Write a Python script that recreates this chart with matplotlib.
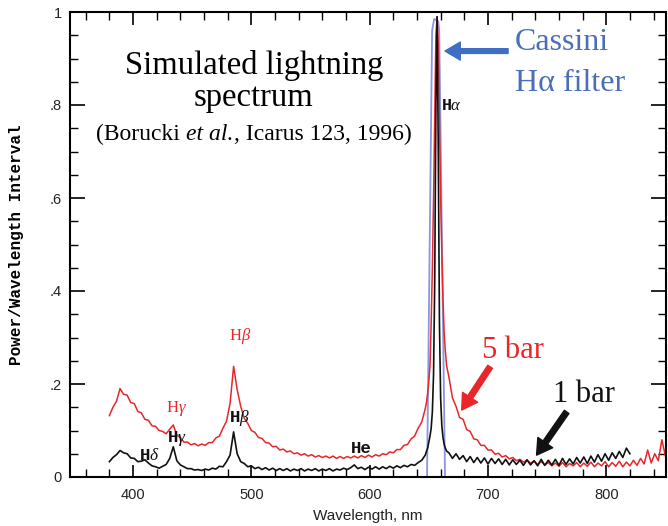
# Simulated lightning spectrum (Borucki et al., 1996) with the Cassini H-alpha filter

import numpy as np
import matplotlib.pyplot as plt
from matplotlib.ticker import MultipleLocator
from matplotlib.transforms import IdentityTransform

plt.rcParams['mathtext.fontset'] = 'custom'
plt.rcParams['mathtext.rm'] = 'Liberation Serif'
plt.rcParams['mathtext.it'] = 'Liberation Serif:italic'

# wavelength grids (nm)
wl_left = np.arange(380, 648, 3)
wl_peak = np.arange(648, 666, 1)
wl_red_right = np.arange(667, 851, 3)
wl_black_right = np.arange(667, 822, 3)

# 5 bar spectrum
red_left = [
    0.132, 0.150, 0.163, 0.190, 0.178, 0.176, 0.160, 0.158, 0.141, 0.138,
    0.124, 0.122, 0.110, 0.109, 0.100, 0.098, 0.093, 0.103, 0.112, 0.090,
    0.085, 0.075, 0.075, 0.069, 0.072, 0.067, 0.071, 0.068, 0.074, 0.074,
    0.084, 0.088, 0.105, 0.120, 0.158, 0.238, 0.188, 0.152, 0.126, 0.115,
    0.100, 0.096, 0.085, 0.083, 0.074, 0.073, 0.065, 0.066, 0.058, 0.060,
    0.054, 0.056, 0.050, 0.052, 0.047, 0.050, 0.045, 0.048, 0.043, 0.046,
    0.042, 0.045, 0.041, 0.045, 0.040, 0.044, 0.040, 0.044, 0.041, 0.045,
    0.041, 0.046, 0.042, 0.047, 0.043, 0.048, 0.045, 0.050, 0.048, 0.054,
    0.052, 0.059, 0.059, 0.068, 0.070, 0.082, 0.088, 0.105, 0.118, 0.147,
]
red_peak = [
    0.160, 0.180, 0.205, 0.240, 0.330, 0.450, 0.600, 0.780, 0.950, 0.990,
    0.930, 0.760, 0.600, 0.480, 0.380, 0.310, 0.270, 0.240,
]
red_right = [
    0.215, 0.170, 0.152, 0.128, 0.124, 0.102, 0.098, 0.082, 0.080, 0.068,
    0.068, 0.058, 0.058, 0.049, 0.051, 0.043, 0.046, 0.039, 0.042, 0.035,
    0.038, 0.032, 0.036, 0.030, 0.034, 0.027, 0.033, 0.026, 0.031, 0.024,
    0.030, 0.023, 0.031, 0.022, 0.029, 0.024, 0.031, 0.022, 0.030, 0.023,
    0.032, 0.022, 0.030, 0.024, 0.033, 0.022, 0.031, 0.023, 0.034, 0.022,
    0.032, 0.024, 0.036, 0.025, 0.040, 0.028, 0.058, 0.030, 0.050, 0.035,
    0.080, 0.045,
]

# 1 bar spectrum
black_left = [
    0.033, 0.042, 0.048, 0.057, 0.052, 0.050, 0.041, 0.040, 0.033, 0.034,
    0.037, 0.030, 0.024, 0.022, 0.019, 0.023, 0.027, 0.040, 0.065, 0.035,
    0.026, 0.022, 0.018, 0.018, 0.015, 0.016, 0.014, 0.017, 0.015, 0.019,
    0.017, 0.023, 0.022, 0.033, 0.047, 0.097, 0.050, 0.033, 0.029, 0.022,
    0.024, 0.018, 0.021, 0.016, 0.020, 0.015, 0.019, 0.014, 0.018, 0.014,
    0.018, 0.013, 0.017, 0.014, 0.018, 0.013, 0.017, 0.014, 0.018, 0.013,
    0.017, 0.014, 0.018, 0.013, 0.017, 0.015, 0.019, 0.016, 0.020, 0.026,
    0.018, 0.021, 0.016, 0.021, 0.017, 0.022, 0.017, 0.022, 0.018, 0.023,
    0.019, 0.024, 0.020, 0.025, 0.022, 0.027, 0.025, 0.031, 0.036, 0.047,
]
black_peak = [
    0.055, 0.062, 0.075, 0.088, 0.105, 0.140, 0.220, 0.420, 0.800, 0.990,
    0.700, 0.330, 0.170, 0.110, 0.085, 0.070, 0.062, 0.056,
]
black_right = [
    0.052, 0.040, 0.050, 0.038, 0.046, 0.033, 0.044, 0.031, 0.042, 0.030,
    0.041, 0.028, 0.040, 0.029, 0.039, 0.027, 0.038, 0.026, 0.037, 0.027,
    0.036, 0.025, 0.037, 0.026, 0.035, 0.024, 0.038, 0.025, 0.036, 0.026,
    0.038, 0.025, 0.040, 0.027, 0.039, 0.028, 0.042, 0.030, 0.043, 0.029,
    0.045, 0.032, 0.048, 0.034, 0.050, 0.036, 0.052, 0.040, 0.055, 0.042,
    0.062, 0.050,
]

# Cassini H-alpha filter transmission
filter_wl = [648.5, 652.8, 654.5, 658.0, 658.8, 663.7]
filter_val = [0.0, 0.96, 0.985, 0.98, 0.96, 0.0]

x_ticks = [400, 500, 600, 700, 800]
y_ticks = [0, 0.2, 0.4, 0.6, 0.8, 1.0]
y_tick_labels = ['0', '.2', '.4', '.6', '.8', '1']

# citation line, roman / italic / roman
cite_parts = ['(Borucki', 'et al.', ', Icarus 123, 1996)']
cite_styles = ['normal', 'italic', 'normal']

wl_red = np.concatenate([wl_left, wl_peak, wl_red_right])
red = np.concatenate([red_left, red_peak, red_right])
wl_black = np.concatenate([wl_left, wl_peak, wl_black_right])
black = np.concatenate([black_left, black_peak, black_right])

fig = plt.figure(figsize=(6.68, 5.26), dpi=100)
ax = fig.add_axes([70 / 668, 49 / 526, 596 / 668, 465 / 526])

ax.plot(filter_wl, filter_val, color='#8a96e0', lw=1.3, zorder=1)
ax.plot(wl_red, red, color='#e8262b', lw=1.1, zorder=2)
ax.plot(wl_black, black, color='#111111', lw=1.2, zorder=3)

ax.set_xlim(346.7, 850.5)
ax.set_ylim(0, 1)
ax.set_xticks(x_ticks)
ax.set_yticks(y_ticks)
ax.set_yticklabels(y_tick_labels)
ax.xaxis.set_minor_locator(MultipleLocator(20))
ax.yaxis.set_minor_locator(MultipleLocator(0.05))
ax.tick_params(which='both', direction='in', top=True, right=True,
               labelsize=10.5, labelcolor='#222222')
ax.tick_params(axis='x', which='major', length=9, width=1.2, pad=8)
ax.tick_params(axis='y', which='major', length=11, width=1.2, pad=6)
ax.tick_params(which='minor', length=5.5, width=1.0)
for lab in ax.get_xticklabels() + ax.get_yticklabels():
    lab.set_fontfamily('Liberation Sans')
for sp in ax.spines.values():
    sp.set_linewidth(1.5)

ax.set_xlabel('Wavelength, nm', fontsize=11, family='Liberation Sans',
              color='#222222', labelpad=5)
ax.set_ylabel('Power/Wavelength Interval', fontsize=11.5, family='Liberation Mono',
              fontweight='bold')
ax.yaxis.set_label_coords(-0.078, 0.5)

# title block
ax.text(502, 0.867, 'Simulated lightning', fontsize=23.5, family='Liberation Serif',
        ha='center', va='baseline')
ax.text(502, 0.798, 'spectrum', fontsize=23.5, family='Liberation Serif',
        ha='center', va='baseline')

# citation: pieces laid side by side in pixel coordinates
fig.canvas.draw()
rend = fig.canvas.get_renderer()
cx, cy = ax.transData.transform((502, 0.725))
cite_objs = [ax.text(0, 0, s, fontsize=17, family='Liberation Serif', style=st,
                     va='baseline', transform=IdentityTransform())
             for s, st in zip(cite_parts, cite_styles)]
widths = [o.get_window_extent(rend).width for o in cite_objs]
gap = 17 * 0.25 * fig.dpi / 72
xpos = cx - (sum(widths) + gap) / 2
cite_objs[0].set_position((xpos, cy))
xpos += widths[0] + gap
cite_objs[1].set_position((xpos, cy))
xpos += widths[1] + 1
cite_objs[2].set_position((xpos, cy))

# Cassini filter label and arrow
ax.text(723, 0.918, 'Cassini', fontsize=23, family='Liberation Serif',
        color='#4a6fb8', va='baseline')
ax.text(723, 0.831, 'H\u03b1 filter', fontsize=23, family='Liberation Serif',
        color='#4a6fb8', va='baseline')
ax.annotate('', xy=(663.7, 0.916), xytext=(717, 0.916),
            arrowprops=dict(arrowstyle='simple,head_width=0.65,head_length=0.55,tail_width=0.17',
                            color='#3f6fc4', mutation_scale=20, shrinkA=0, shrinkB=0))

# pressure labels and arrows
ax.text(694.7, 0.255, '5 bar', fontsize=22, family='Liberation Serif',
        color='#e8262b', va='baseline')
ax.annotate('', xy=(677.8, 0.144), xytext=(701.8, 0.237),
            arrowprops=dict(arrowstyle='simple,head_width=0.65,head_length=0.55,tail_width=0.2',
                            color='#e8262b', mutation_scale=20, shrinkA=0, shrinkB=0))
ax.text(754.8, 0.162, '1 bar', fontsize=22, family='Liberation Serif',
        color='#111111', va='baseline')
ax.annotate('', xy=(741.1, 0.047), xytext=(766.5, 0.140),
            arrowprops=dict(arrowstyle='simple,head_width=0.65,head_length=0.55,tail_width=0.2',
                            color='#111111', mutation_scale=20, shrinkA=0, shrinkB=0))

# line labels
ax.text(490.4, 0.2946, r'H$\beta$', fontsize=12, family='Liberation Serif',
        color='#e8262b', ha='center', va='baseline')
ax.text(437, 0.140, r'H$\gamma$', fontsize=12, family='Liberation Serif',
        color='#e8262b', ha='center', va='baseline')
black_lab = dict(fontsize=12.5, family='Liberation Mono', fontweight='bold',
                 color='#111111', ha='center', va='baseline')
ax.text(490.4, 0.119, r'H$\beta$', **black_lab)
ax.text(437, 0.076, r'H$\gamma$', **black_lab)
ax.text(414, 0.0366, r'H$\delta$', **black_lab)
ax.text(592.7, 0.051, 'He', **black_lab)
ax.text(660.4, 0.789, r'H$\alpha$', fontsize=12, family='Liberation Mono',
        fontweight='bold', color='#111111', va='baseline')

fig.savefig('out.png', dpi=100)
